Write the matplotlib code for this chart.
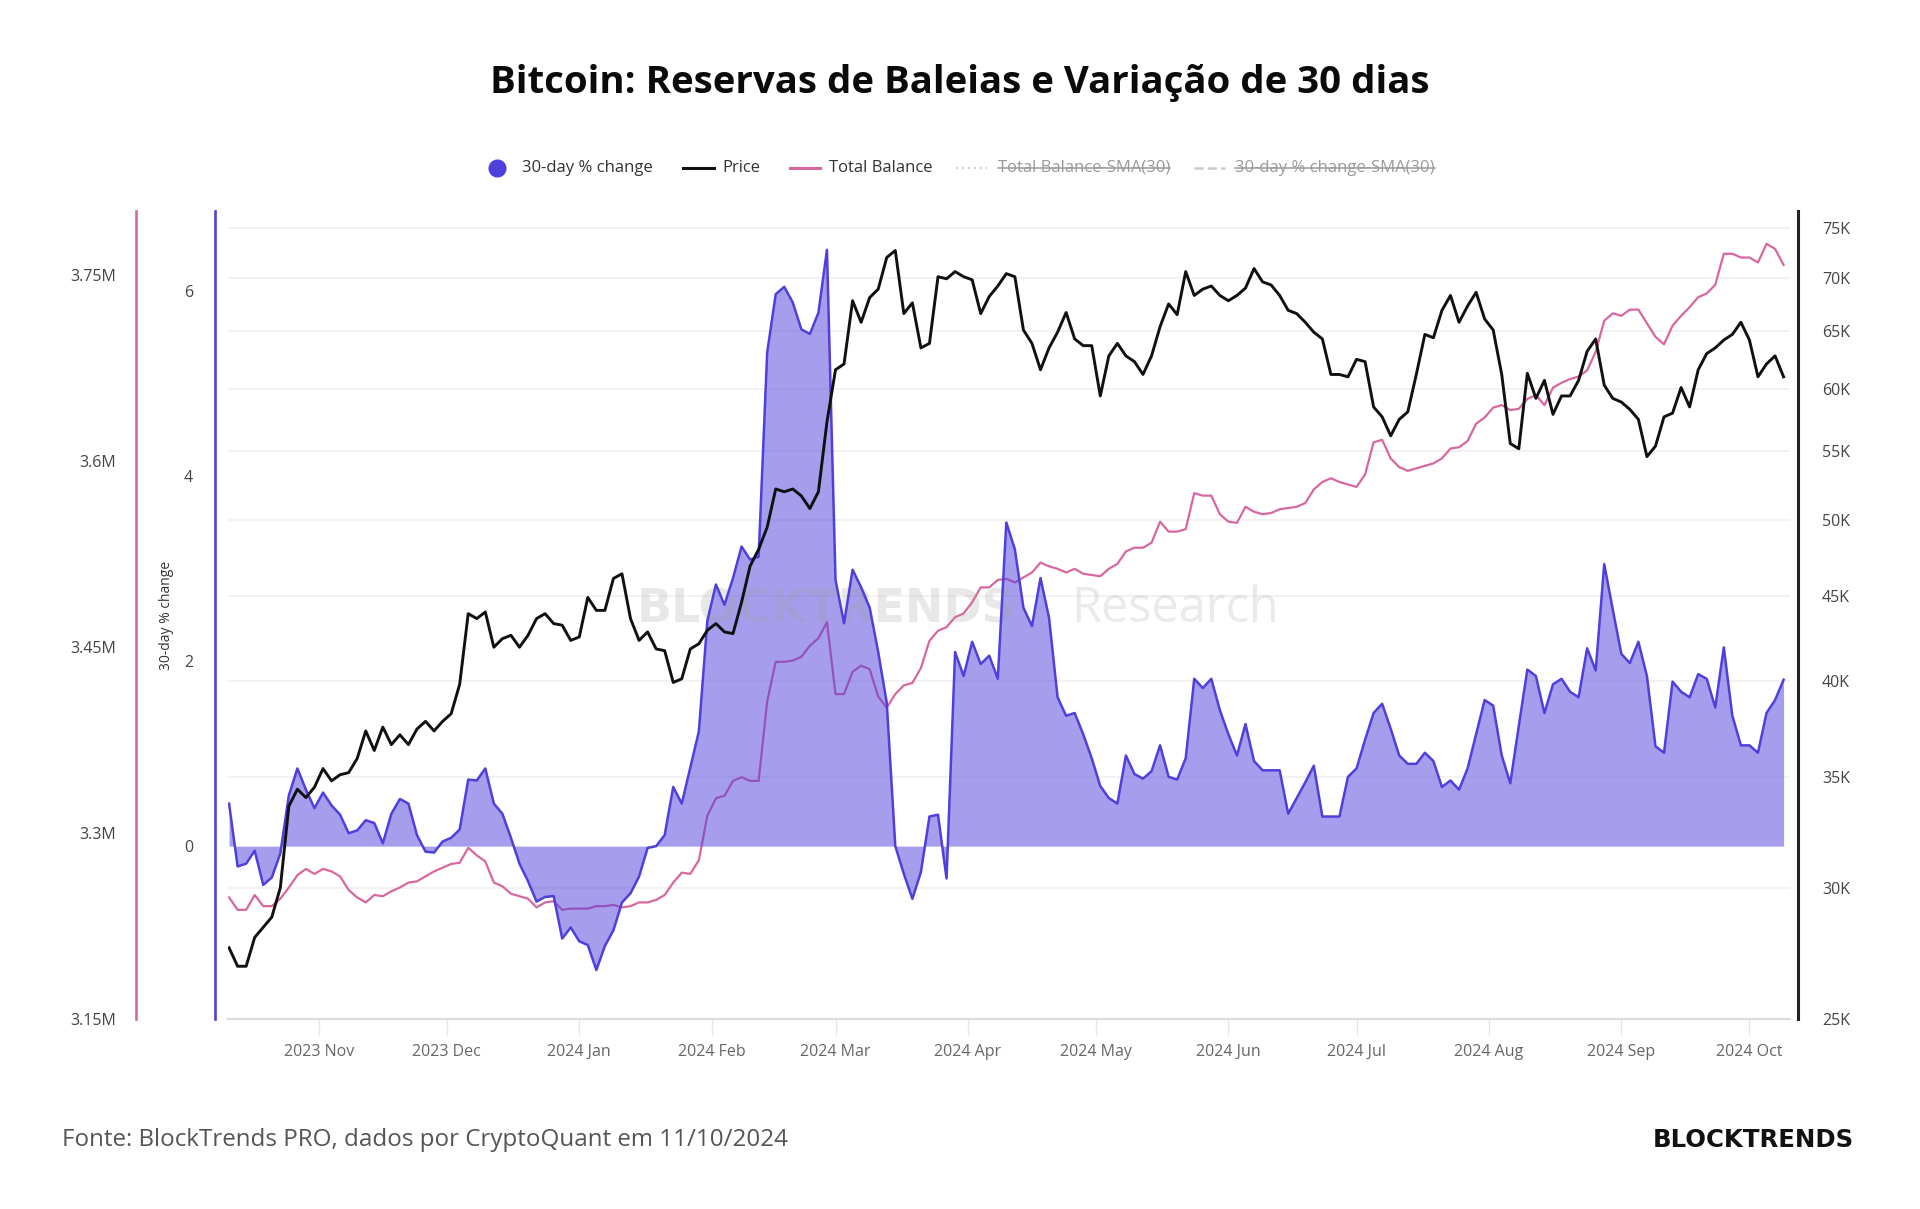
import numpy as np
import pandas as pd
import matplotlib
matplotlib.use("Agg")
import matplotlib.pyplot as plt
import matplotlib.transforms as mtransforms
from matplotlib.lines import Line2D
from matplotlib.ticker import FixedLocator, FuncFormatter, NullLocator

plt.rcParams['font.family'] = ['Open Sans', 'DejaVu Sans']

# ---- dados (a cada 2 dias) ----
dates = pd.date_range('2023-10-11', periods=183, freq='2D')

pct_change = [
    0.46, -0.22, -0.19, -0.05, -0.42, -0.34, -0.08, 0.55, 0.84, 0.61,
    0.41, 0.58, 0.44, 0.34, 0.14, 0.17, 0.28, 0.25, 0.03, 0.35,
    0.51, 0.46, 0.12, -0.06, -0.07, 0.05, 0.09, 0.18, 0.72, 0.71,
    0.84, 0.46, 0.35, 0.09, -0.19, -0.38, -0.60, -0.55, -0.54, -1.00,
    -0.88, -1.03, -1.07, -1.34, -1.08, -0.91, -0.61, -0.51, -0.33, -0.02,
    0.00, 0.12, 0.64, 0.46, 0.85, 1.24, 2.44, 2.83, 2.61, 2.90,
    3.24, 3.10, 3.13, 5.34, 5.97, 6.05, 5.88, 5.59, 5.54, 5.77,
    6.45, 2.88, 2.41, 2.99, 2.80, 2.58, 2.10, 1.55, 0.00, -0.30,
    -0.57, -0.28, 0.32, 0.34, -0.35, 2.10, 1.84, 2.21, 1.97, 2.06,
    1.81, 3.50, 3.21, 2.58, 2.38, 2.90, 2.47, 1.61, 1.41, 1.44,
    1.21, 0.95, 0.65, 0.52, 0.46, 0.98, 0.78, 0.73, 0.81, 1.09,
    0.75, 0.72, 0.95, 1.81, 1.71, 1.81, 1.47, 1.21, 0.98, 1.32,
    0.92, 0.82, 0.82, 0.82, 0.35, 0.52, 0.69, 0.87, 0.32, 0.32,
    0.32, 0.75, 0.84, 1.15, 1.44, 1.54, 1.27, 0.98, 0.89, 0.89,
    1.01, 0.92, 0.64, 0.71, 0.61, 0.84, 1.21, 1.58, 1.52, 0.98,
    0.68, 1.30, 1.91, 1.84, 1.44, 1.75, 1.81, 1.67, 1.61, 2.14,
    1.90, 3.05, 2.56, 2.08, 1.98, 2.21, 1.84, 1.08, 1.01, 1.78,
    1.67, 1.61, 1.86, 1.81, 1.50, 2.15, 1.41, 1.09, 1.09, 1.01,
    1.44, 1.58, 1.80,
]

price_k = [
    27.6, 26.9, 26.9, 28.0, 28.4, 28.8, 30.0, 33.6, 34.4, 34.0,
    34.5, 35.4, 34.8, 35.1, 35.2, 35.9, 37.3, 36.3, 37.5, 36.6,
    37.1, 36.6, 37.4, 37.8, 37.3, 37.8, 38.2, 39.8, 43.9, 43.6,
    44.0, 41.9, 42.4, 42.6, 41.9, 42.6, 43.6, 43.9, 43.3, 43.2,
    42.3, 42.5, 44.9, 44.1, 44.1, 46.1, 46.4, 43.6, 42.3, 42.8,
    41.8, 41.7, 39.9, 40.1, 41.8, 42.1, 42.9, 43.3, 42.8, 42.7,
    44.6, 46.9, 48.0, 49.5, 52.2, 52.0, 52.2, 51.7, 50.8, 52.0,
    57.3, 61.6, 62.1, 67.8, 65.8, 68.1, 68.9, 72.0, 72.7, 66.6,
    67.6, 63.5, 63.9, 70.1, 69.9, 70.6, 70.1, 69.8, 66.6, 68.2,
    69.2, 70.4, 70.1, 65.1, 63.9, 61.6, 63.5, 64.9, 66.7, 64.3,
    63.7, 63.7, 59.4, 62.8, 63.9, 62.8, 62.3, 61.2, 62.8, 65.4,
    67.5, 66.5, 70.6, 68.3, 68.9, 69.2, 68.3, 67.8, 68.3, 69.0,
    70.9, 69.6, 69.3, 68.3, 66.9, 66.6, 65.8, 64.9, 64.3, 61.2,
    61.2, 61.0, 62.5, 62.3, 58.5, 57.7, 56.2, 57.5, 58.1, 61.2,
    64.7, 64.4, 66.9, 68.3, 65.8, 67.3, 68.6, 66.1, 65.1, 61.2,
    55.6, 55.2, 61.3, 59.2, 60.7, 57.9, 59.4, 59.4, 60.7, 63.2,
    64.3, 60.3, 59.2, 58.9, 58.3, 57.5, 54.6, 55.4, 57.7, 58.0,
    60.1, 58.5, 61.6, 63.0, 63.5, 64.2, 64.7, 65.8, 64.2, 61.0,
    62.1, 62.8, 61.0,
]

balance_m = [
    3.248, 3.238, 3.238, 3.250, 3.241, 3.241, 3.247, 3.256, 3.266, 3.271,
    3.267, 3.271, 3.269, 3.265, 3.254, 3.248, 3.244, 3.250, 3.249, 3.253,
    3.256, 3.260, 3.261, 3.265, 3.269, 3.272, 3.275, 3.276, 3.288, 3.282,
    3.277, 3.260, 3.257, 3.251, 3.249, 3.247, 3.240, 3.244, 3.245, 3.238,
    3.239, 3.239, 3.239, 3.241, 3.241, 3.242, 3.240, 3.241, 3.244, 3.244,
    3.246, 3.250, 3.260, 3.268, 3.267, 3.278, 3.314, 3.328, 3.330, 3.342,
    3.345, 3.342, 3.342, 3.406, 3.438, 3.438, 3.439, 3.442, 3.451, 3.457,
    3.470, 3.412, 3.412, 3.430, 3.435, 3.432, 3.410, 3.401, 3.412, 3.419,
    3.421, 3.433, 3.455, 3.463, 3.466, 3.474, 3.477, 3.486, 3.498, 3.498,
    3.504, 3.505, 3.502, 3.506, 3.510, 3.518, 3.515, 3.513, 3.510, 3.513,
    3.509, 3.508, 3.507, 3.513, 3.517, 3.527, 3.530, 3.530, 3.534, 3.551,
    3.543, 3.543, 3.545, 3.574, 3.572, 3.572, 3.557, 3.551, 3.550, 3.563,
    3.559, 3.557, 3.558, 3.561, 3.562, 3.563, 3.566, 3.577, 3.583, 3.586,
    3.583, 3.581, 3.579, 3.589, 3.615, 3.617, 3.602, 3.595, 3.592, 3.594,
    3.596, 3.598, 3.602, 3.610, 3.611, 3.616, 3.630, 3.635, 3.643, 3.645,
    3.641, 3.642, 3.650, 3.653, 3.645, 3.659, 3.663, 3.666, 3.668, 3.673,
    3.688, 3.713, 3.719, 3.717, 3.722, 3.722, 3.711, 3.700, 3.694, 3.709,
    3.717, 3.724, 3.732, 3.735, 3.742, 3.767, 3.767, 3.764, 3.764, 3.760,
    3.775, 3.771, 3.758,
]

month_ticks = pd.date_range('2023-11-01', '2024-10-01', freq='MS')
month_labels = [d.strftime('%Y %b') for d in month_ticks]
pct_ticks = [0, 2, 4, 6]
bal_ticks = [3.15, 3.3, 3.45, 3.6, 3.75]
price_ticks = [25, 30, 35, 40, 45, 50, 55, 60, 65, 70, 75]

title = 'Bitcoin: Reservas de Baleias e Variação de 30 dias'
fonte = 'Fonte: BlockTrends PRO, dados por CryptoQuant em 11/10/2024'

# ---- cores ----
BLUE = '#4f3fdc'
PINK = '#d9679f'
BLACK = '#111111'
TICK_C = '#444444'

W, H = 1920, 1209
def pt(px):  # pixels -> pontos (dpi 100)
    return px * 72 / 100

fig = plt.figure(figsize=(W / 100, H / 100), dpi=100)
rect = [228 / W, 190 / H, 1562 / W, 808 / H]

ax_bal = fig.add_axes(rect, label='bal')
ax = fig.add_axes(rect, label='pct', sharex=ax_bal)
ax_p = fig.add_axes(rect, label='price', sharex=ax_bal)
ax_bal.set_zorder(0)
ax.set_zorder(1)
ax_p.set_zorder(2)
ax.patch.set_visible(False)
ax_p.patch.set_visible(False)

x0 = dates[0] - pd.Timedelta(hours=6)
x1 = dates[0] + pd.Timedelta(days=365.5)
ax_bal.set_xlim(x0, x1)

# --- saldo total (rosa) ---
ax_bal.plot(dates, balance_m, color=PINK, lw=1.6, zorder=3)
ax_bal.set_ylim(3.15, 3.8015)
ax_bal.yaxis.set_major_locator(FixedLocator(bal_ticks))
ax_bal.yaxis.set_major_formatter(FuncFormatter(lambda v, p: f'{v:g}M'))
for s in ['top', 'right', 'bottom']:
    ax_bal.spines[s].set_visible(False)
ax_bal.spines['left'].set_position(('outward', pt(92)))
ax_bal.spines['left'].set_color(PINK)
ax_bal.spines['left'].set_linewidth(1.9)
ax_bal.tick_params(axis='y', length=0, pad=pt(20), labelsize=11.5, labelcolor=TICK_C)
ax_bal.tick_params(axis='x', bottom=False, labelbottom=False)

# --- variação 30 dias (azul) ---
ax.fill_between(dates, pct_change, 0, color=BLUE, alpha=0.5, lw=0, zorder=2)
ax.plot(dates, pct_change, color=BLUE, lw=1.8, zorder=3)
ax.set_ylim(-1.87, 6.87)
ax.yaxis.set_major_locator(FixedLocator(pct_ticks))
for s in ['top', 'right']:
    ax.spines[s].set_visible(False)
ax.spines['left'].set_position(('outward', pt(13)))
ax.spines['left'].set_color(BLUE)
ax.spines['left'].set_linewidth(1.9)
ax.spines['bottom'].set_color('#dcdcdc')
ax.spines['bottom'].set_linewidth(1.6)
ax.tick_params(axis='y', length=0, pad=pt(22), labelsize=11.5, labelcolor=TICK_C)
ax.set_xticks(month_ticks)
ax.set_xticklabels(month_labels)
ax.xaxis.set_minor_locator(NullLocator())
ax.tick_params(axis='x', length=pt(16), width=1, color='#e6e6e6', pad=pt(9),
               labelsize=11.5, labelcolor='#666666')

# marca d'água
ax.text(0.2618, 0.491, 'BLOCKTRENDS', transform=ax.transAxes, fontsize=33,
        fontweight='bold', family=['DejaVu Sans'], color='#9a9a9a', alpha=0.22,
        ha='left', va='baseline', zorder=2.5)
ax.text(0.5397, 0.491, 'Research', transform=ax.transAxes, fontsize=35,
        color='#9a9a9a', alpha=0.2, ha='left', va='baseline', zorder=2.5)

# --- preço (preto, log) ---
ax_p.plot(dates, price_k, color=BLACK, lw=2.1, zorder=3)
ax_p.set_yscale('log')
ax_p.set_ylim(25, 76.8)
ax_p.yaxis.set_major_locator(FixedLocator(price_ticks))
ax_p.yaxis.set_minor_locator(NullLocator())
ax_p.yaxis.set_major_formatter(FuncFormatter(lambda v, p: f'{v:g}K'))
ax_p.yaxis.tick_right()
for s in ['top', 'left', 'bottom']:
    ax_p.spines[s].set_visible(False)
ax_p.spines['right'].set_position(('outward', pt(8)))
ax_p.spines['right'].set_color('#222222')
ax_p.spines['right'].set_linewidth(2.2)
ax_p.tick_params(axis='y', length=0, pad=pt(24), labelsize=11.5, labelcolor=TICK_C)
ax_p.tick_params(axis='x', bottom=False, labelbottom=False)

# grade horizontal segue os ticks de preço, desenhada atrás de tudo
grid_tr = mtransforms.blended_transform_factory(ax_bal.transAxes, ax_p.transData)
for v in price_ticks[1:]:
    ax_bal.plot([0, 1], [v, v], transform=grid_tr, color='#f0f0f0', lw=1.2, zorder=0)

# rótulo do eixo azul
fig.text(166 / W, 1 - 615 / H, '30-day % change', rotation=90, ha='center',
         va='center', fontsize=10, color='#333333')

# título
fig.text(0.5, 1 - 83 / H, title, ha='center', va='center', fontsize=27.6,
         fontweight='bold', color='#0a0a0a')

# legenda manual
yl = 1 - 167.5 / H
fig.add_artist(Line2D([497 / W], [yl], marker='o', ms=12, color=BLUE, lw=0,
                      transform=fig.transFigure))
leg = [
    (None, None, 522, '30-day % change', '#333333'),
    ((683, 714), dict(color=BLACK, lw=2.2), 722, 'Price', '#333333'),
    ((790, 820), dict(color=PINK, lw=2.2), 829, 'Total Balance', '#333333'),
    ((956, 987), dict(color='#d2d2d2', lw=1.6, ls=':'), 998, 'Total Balance-SMA(30)', '#9a9a9a'),
    ((1194, 1225), dict(color='#cccccc', lw=1.8, ls='--'), 1235, '30-day % change-SMA(30)', '#9a9a9a'),
]
leg_texts = []
for seg, style, tx, label, tc in leg:
    if seg is not None:
        fig.add_artist(Line2D([seg[0] / W, seg[1] / W], [yl, yl],
                              transform=fig.transFigure, **style))
    t = fig.text(tx / W, yl, label, ha='left', va='center', fontsize=12, color=tc)
    leg_texts.append(t)

# rodapé
fig.text(62 / W, 1 - 1140 / H, fonte, ha='left', va='center', fontsize=17.35,
         color='#555555')
fig.text(1854 / W, 1 - 1140 / H, 'BLOCKTRENDS', ha='right', va='center',
         fontsize=17.6, fontweight='bold', family=['DejaVu Sans'], color='#111111')

# itens da legenda desativados: texto riscado
fig.canvas.draw()
r = fig.canvas.get_renderer()
for t in leg_texts[3:]:
    bb = t.get_window_extent(r)
    ym = (bb.y0 + bb.y1) / 2 / H
    fig.add_artist(Line2D([bb.x0 / W, bb.x1 / W], [ym, ym], color='#9a9a9a',
                          lw=1.1, transform=fig.transFigure))

fig.savefig('out.png', dpi=100, facecolor='white')
